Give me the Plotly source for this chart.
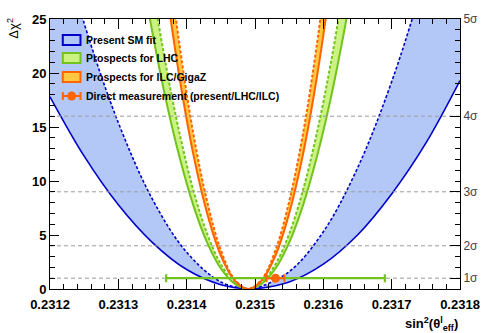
import plotly.graph_objects as go

# ---------------- data ----------------
# Present SM fit: outer (solid) and inner (dashed) parabolas
sm_solid_x = [0.23120, 0.23125, 0.23130, 0.23135, 0.23140, 0.23145, 0.231494,
              0.23150, 0.23155, 0.23160, 0.23165, 0.23170, 0.23175, 0.23180]
sm_solid_y = [17.8, 12.3, 7.8, 4.3, 1.8, 0.4, 0.0,
              0.01, 0.65, 2.3, 5.0, 8.8, 13.5, 19.3]
sm_dash_x = [0.23120, 0.23125, 0.23130, 0.23135, 0.23140, 0.23145, 0.231489,
             0.23150, 0.23155, 0.23160, 0.23165, 0.23170, 0.23175, 0.23180]
sm_dash_y = [36.0, 24.6, 15.4, 8.3, 3.4, 0.65, 0.0,
             0.05, 1.6, 5.3, 11.2, 19.2, 29.3, 41.6]

# Prospects for LHC
lhc_x = [0.23133, 0.23135, 0.23137, 0.23139, 0.23141, 0.23143, 0.23145, 0.23147, 0.23149,
         0.23151, 0.23153, 0.23155, 0.23157, 0.23159, 0.23161, 0.23163, 0.23165]
lhc_solid_y = [30.9, 23.7, 17.4, 12.1, 7.7, 4.3, 1.9, 0.5, 0.0,
               0.5, 1.9, 4.3, 7.7, 12.1, 17.4, 23.7, 30.9]
lhc_dash_y = [36.5, 28.0, 20.6, 14.3, 9.1, 5.1, 2.3, 0.6, 0.0,
              0.6, 2.3, 5.1, 9.1, 14.3, 20.6, 28.0, 36.5]

# Prospects for ILC/GigaZ
ilc_x = [0.23137, 0.23139, 0.23141, 0.23143, 0.23145, 0.23147, 0.23149,
         0.23151, 0.23153, 0.23155, 0.23157, 0.23159, 0.23161]
ilc_solid_y = [27.9, 19.4, 12.4, 7.0, 3.1, 0.8, 0.0, 0.8, 3.1, 7.0, 12.4, 19.4, 27.9]
ilc_dash_y = [32.2, 22.4, 14.3, 8.1, 3.6, 0.9, 0.0, 0.9, 3.6, 8.1, 14.3, 22.4, 32.2]

# Direct measurement (present / ILC)
meas_x = 0.23153
meas_y = 1.0
meas_err_present = 0.00016
meas_err_ilc = 0.000013

# sigma levels on the right axis
sigma_vals = [1, 4, 9, 16, 25]
sigma_text = ["1σ", "2σ", "3σ", "4σ", "5σ"]

x_ticks = [0.2312, 0.2313, 0.2314, 0.2315, 0.2316, 0.2317, 0.2318]
y_ticks = [0, 5, 10, 15, 20, 25]

legend_labels = ["Present SM fit", "Prospects for LHC", "Prospects for ILC/GigaZ",
                 "Direct measurement (present/LHC/ILC)"]

# ---------------- styles ----------------
BLUE_L, BLUE_F = "#0000c8", "#b4c8f8"
GREEN_L, GREEN_F = "#72c31e", "#ccf283"
ORANGE_L, ORANGE_F = "#ff6400", "#ffc843"
FONT = "Liberation Sans, Arial, Helvetica, sans-serif"
DASH = "3px,2px"

W, H = 492, 333
L, R, T, B = 50, 467, 19, 289


def xp(px):
    return (px - L) / (R - L)


def yp(py):
    return (B - py) / (B - T)


fig = go.Figure()


def band(xs, ys_out, xs_in, ys_in, fillc):
    fig.add_trace(go.Scatter(x=xs, y=ys_out, mode="lines", line=dict(width=0, shape="spline"),
                             hoverinfo="skip", showlegend=False))
    fig.add_trace(go.Scatter(x=xs_in, y=ys_in, mode="lines", line=dict(width=0, shape="spline"),
                             fill="tonexty", fillcolor=fillc, hoverinfo="skip", showlegend=False))


def curve(xs, ys, color, dash, width):
    fig.add_trace(go.Scatter(x=xs, y=ys, mode="lines",
                             line=dict(color=color, width=width, dash=dash, shape="spline"),
                             showlegend=False))


band(sm_solid_x, sm_solid_y, sm_dash_x, sm_dash_y, BLUE_F)
curve(sm_solid_x, sm_solid_y, BLUE_L, "solid", 1.6)
curve(sm_dash_x, sm_dash_y, BLUE_L, DASH, 1.6)

band(lhc_x, lhc_solid_y, lhc_x, lhc_dash_y, GREEN_F)
curve(lhc_x, lhc_solid_y, GREEN_L, "solid", 2)
curve(lhc_x, lhc_dash_y, GREEN_L, DASH, 2)

band(ilc_x, ilc_solid_y, ilc_x, ilc_dash_y, ORANGE_F)
curve(ilc_x, ilc_solid_y, ORANGE_L, "solid", 2)
curve(ilc_x, ilc_dash_y, ORANGE_L, DASH, 2)

# dashed sigma reference lines
for s in sigma_vals[:-1]:
    fig.add_trace(go.Scatter(x=[x_ticks[0], x_ticks[-1]], y=[s, s], mode="lines",
                             line=dict(color="#9a9a9a", width=1, dash="4px,3px"),
                             hoverinfo="skip", showlegend=False))

# measurement error bars
fig.add_trace(go.Scatter(x=[meas_x], y=[meas_y], mode="markers",
                         marker=dict(size=1, color="rgba(0,0,0,0)"),
                         error_x=dict(type="data", array=[meas_err_present], color=GREEN_L,
                                      thickness=2.2, width=4),
                         showlegend=False))
fig.add_trace(go.Scatter(x=[meas_x], y=[meas_y], mode="markers",
                         marker=dict(size=9, color=ORANGE_L),
                         error_x=dict(type="data", array=[meas_err_ilc], color=ORANGE_L,
                                      thickness=2, width=4),
                         showlegend=False))

# dummy trace for the right-hand sigma axis
fig.add_trace(go.Scatter(x=[None], y=[None], yaxis="y2", showlegend=False))

shapes = []
annotations = []
# legend
leg_rows = [40, 58, 77, 96]
for (py, fc, lc) in zip(leg_rows[:3], [BLUE_F, GREEN_F, ORANGE_F], [BLUE_L, GREEN_L, ORANGE_L]):
    shapes.append(dict(type="rect", xref="paper", yref="paper", x0=xp(63), x1=xp(81),
                       y0=yp(py + 5), y1=yp(py - 5), fillcolor=fc, line=dict(color=lc, width=2)))
py = leg_rows[3]
shapes.append(dict(type="line", xref="paper", yref="paper", x0=xp(63), x1=xp(81),
                   y0=yp(py), y1=yp(py), line=dict(color=ORANGE_L, width=2)))
for cx in (63, 81):
    shapes.append(dict(type="line", xref="paper", yref="paper", x0=xp(cx), x1=xp(cx),
                       y0=yp(py - 4), y1=yp(py + 4), line=dict(color=ORANGE_L, width=2)))
shapes.append(dict(type="circle", xref="paper", yref="paper", x0=xp(67.5), x1=xp(76.5),
                   y0=yp(py + 4.5), y1=yp(py - 4.5), fillcolor=ORANGE_L, line=dict(color=ORANGE_L, width=0)))
for py, txt in zip(leg_rows, legend_labels):
    annotations.append(dict(xref="paper", yref="paper", x=xp(85), y=yp(py), text=txt,
                            showarrow=False, xanchor="left", yanchor="middle",
                            font=dict(family=FONT, size=10.5, color="black", weight="bold")))

# axis titles
annotations.append(dict(xref="paper", yref="paper", x=xp(R), y=yp(324),
                        text="sin<sup>2</sup>(θ<sup>l</sup><sub>eff</sub>)", showarrow=False,
                        xanchor="right", yanchor="middle",
                        font=dict(family=FONT, size=13, color="black", weight="bold")))
annotations.append(dict(xref="paper", yref="paper", x=xp(12), y=yp(28),
                        text="Δχ<sup>2</sup>", showarrow=False, textangle=-90,
                        xanchor="center", yanchor="middle",
                        font=dict(family=FONT, size=13, color="black")))

fig.update_layout(
    width=W, height=H,
    margin=dict(l=L, r=W - R, t=T, b=H - B),
    paper_bgcolor="white", plot_bgcolor="white",
    showlegend=False,
    shapes=shapes, annotations=annotations,
    xaxis=dict(range=[x_ticks[0], x_ticks[-1]], tickvals=x_ticks, tickformat=".4f",
               ticks="inside", ticklen=10, tickwidth=1, tickcolor="black",
               minor=dict(dtick=0.00002, tick0=x_ticks[0], ticks="inside", ticklen=5, tickcolor="black"),
               showline=True, linecolor="black", linewidth=1, mirror="ticks",
               showgrid=False, zeroline=False, ticklabelstandoff=3,
               tickfont=dict(family=FONT, size=13, color="black", weight="bold")),
    yaxis=dict(range=[0, 25], tickvals=y_ticks,
               ticks="inside", ticklen=9, tickwidth=1, tickcolor="black",
               minor=dict(dtick=1, tick0=0, ticks="inside", ticklen=5, tickcolor="black"),
               showline=True, linecolor="black", linewidth=1, mirror=True,
               showgrid=False, zeroline=False,
               tickfont=dict(family=FONT, size=13, color="black", weight="bold")),
    yaxis2=dict(range=[0, 25], overlaying="y", side="right",
                tickvals=sigma_vals, ticktext=sigma_text,
                ticks="inside", ticklen=10, tickwidth=1, tickcolor="black",
                minor=dict(dtick=1, tick0=0, ticks="inside", ticklen=5, tickcolor="black"),
                showline=True, linecolor="black", linewidth=1,
                showgrid=False, zeroline=False,
                tickfont=dict(family=FONT, size=12, color="#444444")),
)

fig.write_html("out.html", config={"displayModeBar": False},
               post_script="document.body.style.margin='0';document.body.style.overflow='hidden';")
